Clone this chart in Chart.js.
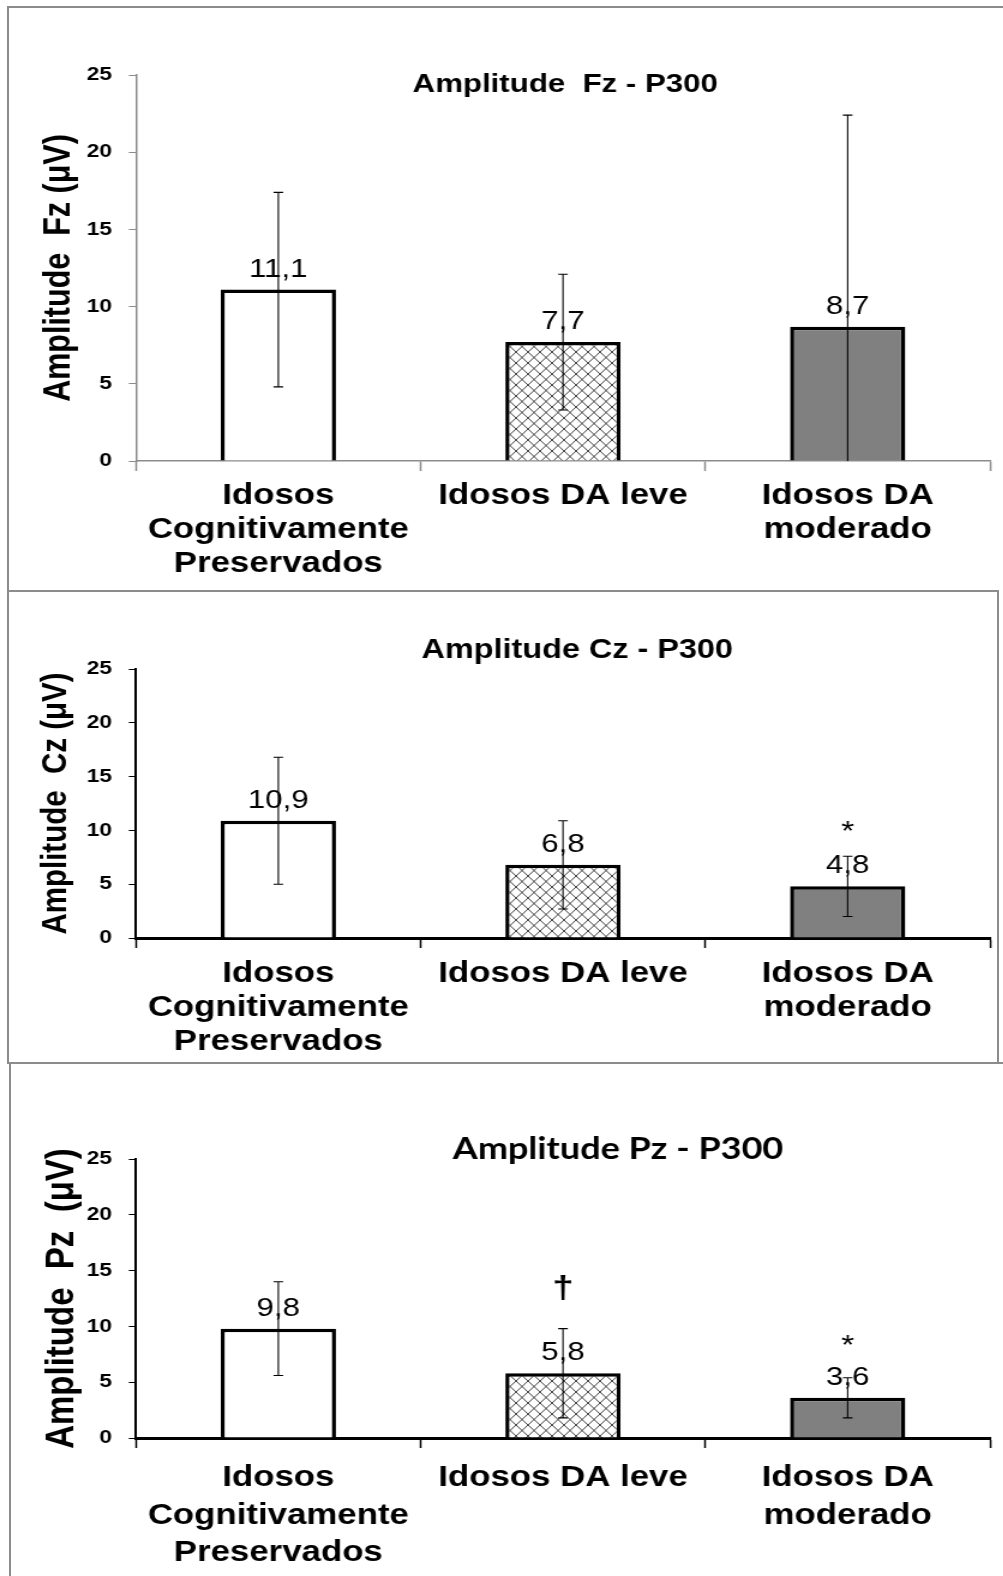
<!DOCTYPE html>
<html>
<head>
<meta charset="utf-8">
<script src="https://cdn.jsdelivr.net/npm/chart.js@4"></script>
<style>
  html, body { margin: 0; padding: 0; background: #fff; }
  #page { position: relative; width: 1003px; height: 1576px; overflow: hidden; }
  .panel { position: absolute; left: 0; width: 1003px; }
  .stretch { position: absolute; left: 0; top: 0; transform: scaleX(1.2); transform-origin: 0 0; }
  .frame { position: absolute; border: 0 solid #8c8c8c; }
</style>
</head>
<body>
<div id="page">
  <div class="panel" style="top:0;height:590px"><div class="stretch"><canvas id="fz" width="836" height="590"></canvas></div></div>
  <div class="panel" style="top:590px;height:472px"><div class="stretch"><canvas id="cz" width="836" height="472"></canvas></div></div>
  <div class="panel" style="top:1062px;height:514px"><div class="stretch"><canvas id="pz" width="836" height="514"></canvas></div></div>

  <div class="frame" style="left:7px;top:6px;width:1000px;height:584px;border-top-width:2px;border-left-width:2px"></div>
  <div class="frame" style="left:7px;top:590px;width:988px;height:470px;border-width:2px"></div>
  <div class="frame" style="left:9px;top:1062px;width:1000px;height:520px;border-top-width:2px;border-left-width:2px"></div>
</div>

<script>
// groups on the x axis
const categories = [['Idosos', 'Cognitivamente', 'Preservados'], 'Idosos DA leve', ['Idosos DA', 'moderado']];

// mean amplitude and error (µV) per electrode
const fzMeans = [11.1, 7.7, 8.7];
const fzErrors = [6.3, 4.4, 13.7];
const czMeans = [10.9, 6.8, 4.8];
const czErrors = [5.9, 4.1, 2.8];
const pzMeans = [9.8, 5.8, 3.6];
const pzErrors = [4.2, 4.0, 1.8];

// significance marks and the height (µV) they sit at
const czMarks = ['', '', '*'];
const czMarkAt = [0, 0, 10.4];
const pzMarks = ['', '†', '*'];
const pzMarkAt = [0, 13.4, 8.8];

const yMin = 0, yMax = 25, yStep = 5;

const ARIAL = '"Liberation Sans", Arial, sans-serif';
Chart.defaults.font.family = ARIAL;
Chart.defaults.color = '#000';

function hatch() {
  const c = document.createElement('canvas');
  c.width = 10; c.height = 11;
  const g = c.getContext('2d');
  g.fillStyle = '#fff';
  g.fillRect(0, 0, 10, 11);
  g.strokeStyle = '#444';
  g.lineWidth = 1;
  g.beginPath();
  g.moveTo(0, 0); g.lineTo(10, 11);
  g.moveTo(10, 0); g.lineTo(0, 11);
  g.stroke();
  return g.createPattern(c, 'repeat');
}

const fmt = v => v.toFixed(1).replace('.', ',');

function panel(id, p) {
  // value labels, marks, error bars and the heading
  const extras = {
    id: 'extras',
    afterDatasetsDraw(chart) {
      const { ctx } = chart;
      const y = chart.scales.y;
      const bars = chart.getDatasetMeta(0).data;
      ctx.save();
      ctx.fillStyle = '#000';
      ctx.textAlign = 'center';
      ctx.textBaseline = 'alphabetic';

      ctx.font = '26px ' + ARIAL;
      bars.forEach((bar, i) => ctx.fillText(fmt(p.means[i]), bar.x, bar.y - 13));

      (p.marks || []).forEach((m, i) => {
        if (!m) return;
        ctx.font = (m === '*' ? 28 : 'bold 32') + 'px ' + ARIAL;
        const mt = ctx.measureText(m);
        const yc = y.getPixelForValue(p.markAt[i]);
        ctx.fillText(m, bars[i].x, yc + (mt.actualBoundingBoxAscent - mt.actualBoundingBoxDescent) / 2);
      });

      ctx.strokeStyle = '#000';
      ctx.lineWidth = 1.1;
      bars.forEach((bar, i) => {
        const hi = p.means[i] + p.errors[i];
        const lo = Math.max(p.means[i] - p.errors[i], yMin);
        const yHi = y.getPixelForValue(hi), yLo = y.getPixelForValue(lo);
        ctx.beginPath();
        ctx.moveTo(bar.x, yHi); ctx.lineTo(bar.x, yLo);
        ctx.moveTo(bar.x - 4, yHi); ctx.lineTo(bar.x + 4, yHi);
        if (lo > yMin) { ctx.moveTo(bar.x - 4, yLo); ctx.lineTo(bar.x + 4, yLo); }
        ctx.stroke();
      });

      ctx.font = p.titleFont;
      ctx.textBaseline = 'middle';
      ctx.fillText(p.title, p.titleX, p.titleY);
      ctx.restore();
    }
  };

  return new Chart(document.getElementById(id), {
    type: 'bar',
    data: {
      labels: categories,
      datasets: [{
        data: p.means,
        backgroundColor: ['#fff', hatch(), '#808080'],
        borderColor: '#000',
        borderWidth: 3.5,
        borderSkipped: 'start',
        categoryPercentage: 1,
        barPercentage: 0.405
      }]
    },
    options: {
      responsive: false,
      animation: false,
      devicePixelRatio: 1,
      layout: { padding: { top: p.top, left: 30, right: 11, bottom: 0 } },
      plugins: { legend: { display: false }, tooltip: { enabled: false } },
      scales: {
        x: {
          grid: { drawOnChartArea: false, tickLength: 10, color: p.axisColor, tickWidth: 1.5 },
          border: { color: p.axisColor, width: p.xAxisWidth },
          ticks: {
            autoSkip: false, maxRotation: 0, padding: p.labelPad,
            font: { size: 29, weight: 'bold', lineHeight: p.labelLine + 'px' }
          },
          afterFit(s) { s.height = p.xHeight; }
        },
        y: {
          min: yMin, max: yMax,
          grid: { drawOnChartArea: false, tickLength: 6, color: p.axisColor },
          border: { color: p.axisColor, width: p.yAxisWidth },
          ticks: { stepSize: yStep, padding: 14, font: { size: 19, weight: 'bold' } },
          title: {
            display: true, text: p.yTitle, padding: { top: p.yTitlePad, bottom: 0 },
            font: { size: p.yTitleSize, weight: 'bold', lineHeight: 1 }
          },
          afterFit(s) { s.width = 83.3; }
        }
      }
    },
    plugins: [extras]
  });
}

panel('fz', {
  means: fzMeans, errors: fzErrors,
  title: 'Amplitude  Fz - P300', titleFont: 'bold 26px ' + ARIAL, titleX: 471, titleY: 85,
  yTitle: 'Amplitude  Fz (μV)', yTitleSize: 30.5, yTitlePad: 4,
  top: 75, xHeight: 129, labelPad: 8, labelLine: 34,
  axisColor: '#8c8c8c', xAxisWidth: 1.5, yAxisWidth: 1.5
});

panel('cz', {
  means: czMeans, errors: czErrors, marks: czMarks, markAt: czMarkAt,
  title: 'Amplitude Cz - P300', titleFont: 'bold 27px ' + ARIAL, titleX: 481, titleY: 61,
  yTitle: 'Amplitude  Cz (μV)', yTitleSize: 29.5, yTitlePad: 2,
  top: 79, xHeight: 124, labelPad: 9, labelLine: 34,
  axisColor: '#000', xAxisWidth: 3, yAxisWidth: 2
});

panel('pz', {
  means: pzMeans, errors: pzErrors, marks: pzMarks, markAt: pzMarkAt,
  title: 'Amplitude Pz - P300', titleFont: 'bold 30px "Lato", "Open Sans", sans-serif', titleX: 515, titleY: 87,
  yTitle: 'Amplitude  Pz  (μV)', yTitleSize: 33, yTitlePad: 5,
  top: 97, xHeight: 138, labelPad: 11, labelLine: 37.7,
  axisColor: '#000', xAxisWidth: 3, yAxisWidth: 2
});
</script>
</body>
</html>
